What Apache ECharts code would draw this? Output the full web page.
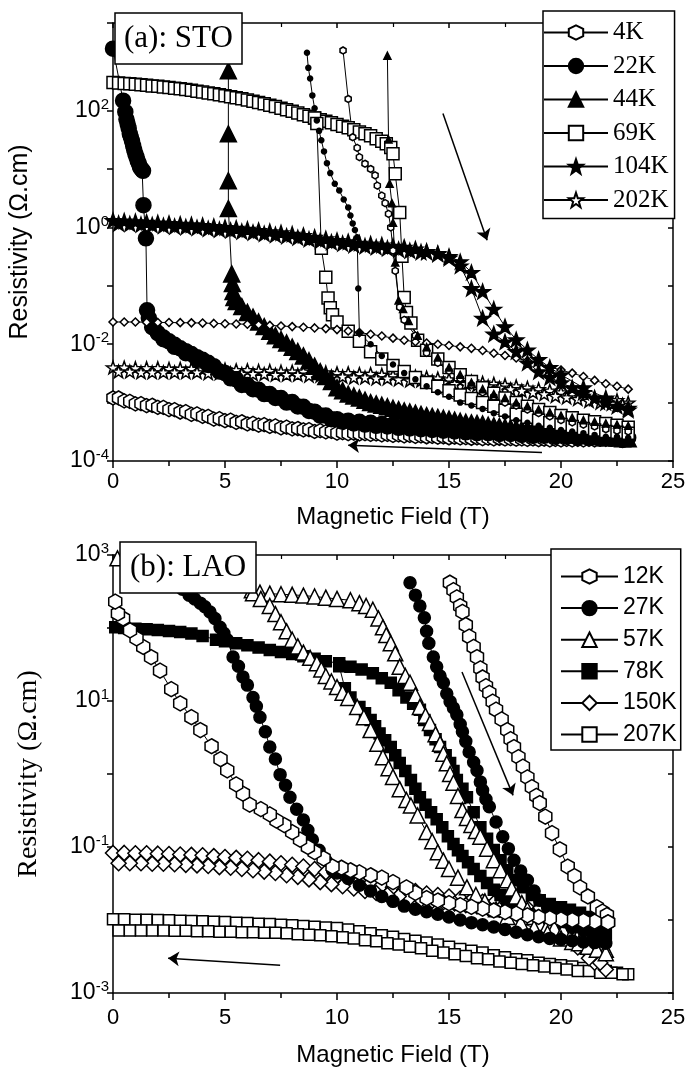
<!DOCTYPE html>
<html>
<head>
<meta charset="utf-8">
<script src="https://cdn.jsdelivr.net/npm/echarts@6.0.0/dist/echarts.min.js"></script>
<style>
html, body { margin: 0; background: #fff; }
#main { width: 692px; height: 1077px; }
</style>
</head>
<body>
<div id="main"></div>
<script>
// ---- (a) STO : [field (T), resistivity (ohm.cm)] ----
const sto4kBack = [[0,1.2e-3],[0.25,1.2e-3],[0.5,1.07e-3],[0.75,1.05e-3],[1,9.5e-4],[1.25,9.6e-4],[1.5,8.9e-4],[1.75,9e-4],[2,8.3e-4],[2.25,8.3e-4],[2.5,7.6e-4],[2.75,7.6e-4],[3,6.9e-4],[3.25,7e-4],[3.5,6.3e-4],[3.75,6.4e-4],[4,5.8e-4],[4.25,5.8e-4],[4.5,5.2e-4],[4.75,5.3e-4],[5,4.9e-4],[5.25,5e-4],[5.5,4.6e-4],[5.75,4.7e-4],[6,4.3e-4],[6.25,4.4e-4],[6.5,4.1e-4],[6.75,4.2e-4],[7,3.9e-4],[7.25,4e-4],[7.5,3.7e-4],[7.75,3.8e-4],[8,3.55e-4],[8.25,3.6e-4],[8.5,3.4e-4],[8.75,3.45e-4],[9,3.2e-4],[9.25,3.3e-4],[9.5,3.15e-4],[9.75,3.2e-4],[10,3.0e-4],[10.25,3.05e-4],[10.5,2.95e-4],[10.75,3e-4],[11,2.9e-4],[11.25,2.95e-4],[11.5,2.85e-4],[11.75,2.9e-4],[12,2.8e-4],[12.25,2.85e-4],[12.5,2.75e-4],[12.75,2.8e-4],[13,2.7e-4],[13.25,2.75e-4],[13.5,2.65e-4],[13.75,2.7e-4],[14,2.6e-4],[14.25,2.65e-4],[14.5,2.55e-4],[14.75,2.6e-4],[15,2.5e-4],[15.25,2.55e-4],[15.5,2.48e-4],[15.75,2.52e-4],[16,2.45e-4],[16.25,2.5e-4],[16.5,2.42e-4],[16.75,2.47e-4],[17,2.4e-4],[17.25,2.45e-4],[17.5,2.38e-4],[17.75,2.42e-4],[18,2.36e-4],[18.25,2.4e-4],[18.5,2.34e-4],[18.75,2.38e-4],[19,2.32e-4],[19.25,2.36e-4],[19.5,2.3e-4],[19.75,2.35e-4],[20,2.3e-4],[20.25,2.35e-4],[20.5,2.3e-4],[20.75,2.35e-4],[21,2.3e-4],[21.25,2.35e-4],[21.5,2.3e-4],[21.75,2.38e-4],[22,2.35e-4],[22.25,2.42e-4],[22.5,2.4e-4],[22.75,2.5e-4],[23,2.5e-4]];
const sto4kSweep = [[10.27,1070],[10.5,158],[10.7,35],[10.9,23],[11.0,16],[11.25,12.3],[11.5,10],[11.7,7.8],[11.8,5.2],[12.0,3.5],[12.15,2.6],[12.3,1.7],[12.4,1.0],[12.5,0.4],[12.6,0.18],[12.8,0.043],[13.0,0.026],[13.5,0.014],[14,0.0071],[14.5,0.0048],[15,0.0035],[15.5,0.0026],[16,0.002],[16.5,0.0015],[17,0.00126],[17.5,0.001],[18,0.00089],[18.5,0.00076],[19,0.00066],[19.5,0.00058],[20,0.0005],[20.5,0.00046],[21,0.00042],[21.5,0.00039],[22,0.00035],[22.5,0.00033],[23,0.00032]];
const sto22k = [[0,1150],[0.45,148],[0.55,95],[0.6,71],[0.65,60],[0.7,50],[0.75,40],[0.8,35],[0.85,30],[0.9,25],[0.95,21],[1.0,18],[1.05,16],[1.1,14],[1.15,12.5],[1.2,11],[1.25,10.2],[1.3,9.6],[1.34,9.3],[1.36,2.4],[1.47,0.65],[1.52,0.038],[1.6,0.028],[1.8,0.02],[2,0.0155],[2.25,0.013],[2.5,0.0112],[2.75,0.0098],[3,0.0085],[3.25,0.0076],[3.5,0.0068],[3.75,0.006],[4,0.0054],[4.25,0.0048],[4.5,0.0042],[5,0.0032],[5.5,0.0025],[6,0.002],[6.5,0.00166],[7,0.0014],[7.5,0.0012],[8,0.00102],[8.5,0.00085],[9,0.0007],[9.5,0.0006],[10,0.00052],[10.5,0.00049],[11,0.00047],[11.5,0.00045],[12,0.00043],[12.5,0.00042],[13,0.0004],[13.5,0.00039],[14,0.00038],[14.5,0.00036],[15,0.00035],[15.5,0.000345],[16,0.00034],[16.5,0.00033],[17,0.00032],[17.5,0.000315],[18,0.00031],[18.5,0.000305],[19,0.0003],[19.5,0.00029],[20,0.00028],[20.5,0.000275],[21,0.00027],[21.5,0.000265],[22,0.00026],[22.5,0.000255],[23,0.00025]];
const sto22kBack = [[22.75,0.00023],[22.25,0.00024],[21.75,0.00024],[21.25,0.00025],[20.75,0.00025],[20.25,0.00026],[19.75,0.00026],[19.25,0.00027],[18.75,0.00027],[18.25,0.00028],[17.75,0.00029],[17.25,0.00029],[16.75,0.0003],[16.25,0.0003],[15.75,0.00031],[15.25,0.00032],[14.75,0.00033],[14.25,0.00034],[13.75,0.00035],[13.25,0.00036],[12.75,0.00037],[12.25,0.00039],[11.75,0.0004],[11.25,0.00042],[10.75,0.00044],[10.25,0.00047],[9.75,0.00052],[9.25,0.0006],[8.75,0.00072],[8.25,0.00086],[7.75,0.001],[7.25,0.0012],[6.75,0.0014],[6.25,0.0017],[5.75,0.002],[5.25,0.0026],[4.75,0.0034],[4.25,0.0044],[3.75,0.0055],[3.25,0.007],[2.75,0.009],[2.25,0.0122],[1.75,0.0195]];
const sto22kSweep = [[8.66,980],[8.72,540],[8.8,355],[8.9,182],[9.0,110],[9.1,68],[9.2,45],[9.3,31],[9.42,20],[9.55,12.6],[9.7,8.5],[9.9,5.6],[10.1,4.3],[10.3,3.0],[10.5,2.2],[10.6,1.6],[10.7,1.17],[10.8,0.9],[10.9,0.68],[10.95,0.09],[11.0,0.0155],[11.5,0.01],[12,0.0063],[12.5,0.0045],[13,0.0032],[13.5,0.0025],[14,0.0019],[14.5,0.0015],[15,0.00126],[15.5,0.001],[16,0.00089],[16.5,0.00078],[17,0.00066],[17.5,0.00058],[18,0.0005],[18.5,0.00045],[19,0.0004],[19.5,0.00037],[20,0.00034],[20.5,0.00032],[21,0.0003],[21.5,0.00028],[22,0.00026],[22.5,0.00026],[23,0.00025]];
const sto44k = [[5.15,480],[5.15,40],[5.15,6.3],[5.15,2.1],[5.3,0.16],[5.33,0.11],[5.36,0.08],[5.4,0.063],[5.5,0.054],[5.75,0.044],[6,0.035],[6.25,0.029],[6.5,0.024],[6.75,0.02],[7,0.0166],[7.5,0.012],[8,0.0089],[8.5,0.0063],[9,0.0042],[9.5,0.0028],[10,0.0018],[10.5,0.0014],[11,0.0012],[11.5,0.001],[12,0.0009],[12.5,0.0008],[13,0.00072],[13.5,0.00066],[14,0.0006],[14.5,0.00056],[15,0.00052],[15.5,0.00048],[16,0.00045],[16.5,0.00043],[17,0.0004],[17.5,0.00038],[18,0.00036],[18.5,0.00034],[19,0.00033],[19.5,0.00031],[20,0.0003],[20.5,0.00029],[21,0.00028],[21.5,0.00027],[22,0.00026],[22.5,0.00025],[23,0.00024]];
const sto44kBack = [[22.75,0.00024],[22.25,0.00025],[21.75,0.00026],[21.25,0.00027],[20.75,0.00028],[20.25,0.00029],[19.75,0.0003],[19.25,0.00031],[18.75,0.00033],[18.25,0.00035],[17.75,0.00037],[17.25,0.00039],[16.75,0.00041],[16.25,0.00044],[15.75,0.00046],[15.25,0.0005],[14.75,0.00054],[14.25,0.00058],[13.75,0.00063],[13.25,0.00069],[12.75,0.00076],[12.25,0.00085],[11.75,0.00095],[11.25,0.0011],[10.75,0.0013],[10.25,0.0016],[9.75,0.0023],[9.25,0.0034],[8.75,0.0052],[8.25,0.0075],[7.75,0.0105],[7.25,0.014]];
const sto44kSweep = [[12.25,870],[12.3,32],[12.35,5.6],[12.45,2.6],[12.5,1.2],[12.6,0.25],[12.75,0.056],[12.95,0.04],[13.2,0.025],[13.6,0.014],[14,0.0089],[14.5,0.0059],[15,0.004],[15.5,0.003],[16,0.0022],[16.5,0.0017],[17,0.0014],[17.5,0.0012],[18,0.001],[18.5,0.00087],[19,0.00076],[19.5,0.00068],[20,0.0006],[20.5,0.00055],[21,0.0005],[21.5,0.00047],[22,0.00044],[22.5,0.00042],[23,0.0004]];
const sto69k = [[0,302],[0.25,297],[0.5,292],[0.75,287],[1,282],[1.25,276],[1.5,271],[1.75,265],[2,260],[2.25,254],[2.5,248],[2.75,242],[3,236],[3.25,229],[3.5,222],[3.75,215],[4,208],[4.25,201],[4.5,194],[4.75,187],[5,180],[5.25,173],[5.5,166],[5.75,159],[6,152],[6.25,145],[6.5,138],[6.75,131],[7,124],[7.25,117],[7.5,110],[7.75,103],[8,97],[8.25,91],[8.5,85],[8.75,80],[9,75],[9.25,70],[9.5,66],[9.75,62],[10,58],[10.25,54],[10.5,51],[10.75,47],[11,43],[11.25,40],[11.5,37],[11.75,33],[12,30],[12.2,27],[12.4,23.4],[12.5,18.2],[12.6,8.3],[12.8,1.8],[12.9,0.32],[13.0,0.063],[13.1,0.035],[13.3,0.023],[13.6,0.0117],[14,0.0079],[14.5,0.0056],[15,0.004],[15.5,0.003],[16,0.0023],[16.5,0.0018],[17,0.00145],[17.5,0.0012],[18,0.001],[18.5,0.00087],[19,0.00076],[19.5,0.00068],[20,0.0006],[20.5,0.00055],[21,0.0005],[21.5,0.00047],[22,0.00044],[22.5,0.00041],[23,0.00038]];
const sto69kBranch = [[9.0,75],[9.1,60],[9.3,0.44],[9.5,0.14],[9.6,0.062],[9.7,0.042],[9.8,0.032],[10,0.024],[10.5,0.0166],[11,0.0112],[11.5,0.0074],[12,0.0056],[12.5,0.0043],[13,0.0034],[13.5,0.0027],[14,0.0022],[14.5,0.0019],[15,0.0016],[15.5,0.00135],[16,0.00117],[16.5,0.001],[17,0.00087],[17.5,0.00074],[18,0.00063],[18.5,0.00056],[19,0.0005],[19.5,0.00045],[20,0.00042],[20.5,0.00039],[21,0.00036],[21.5,0.00034],[22,0.00032],[22.5,0.00031],[23,0.0003]];
const sto104k = [[0,1.32],[0.5,1.29],[1,1.26],[1.5,1.23],[2,1.2],[2.5,1.17],[3,1.14],[3.5,1.11],[4,1.08],[4.5,1.04],[5,1.0],[5.5,0.97],[6,0.93],[6.5,0.89],[7,0.85],[7.5,0.81],[8,0.77],[8.5,0.73],[9,0.68],[9.5,0.64],[10,0.6],[10.5,0.57],[11,0.54],[11.5,0.52],[12,0.5],[12.5,0.48],[13,0.46],[13.5,0.43],[14,0.39],[14.5,0.35],[15,0.3],[15.5,0.22],[16,0.09],[16.5,0.028],[17,0.015],[17.5,0.011],[18,0.0075],[18.5,0.0048],[19,0.0034],[19.5,0.0027],[20,0.0022],[20.5,0.0018],[21,0.0015],[21.5,0.0012],[22,0.001],[22.5,0.00087],[23,0.00075]];
const sto104kBack = [[23,0.0008],[22,0.0012],[21,0.0018],[20,0.003],[19.5,0.004],[19,0.0055],[18.5,0.008],[18,0.012],[17.5,0.02],[17,0.04],[16.5,0.08],[16,0.17],[15.5,0.26],[15,0.32],[14.5,0.36],[14,0.38],[13.75,0.38],[13.25,0.4],[12.75,0.42],[12.25,0.44],[11.75,0.46],[11.25,0.48],[10.75,0.5],[10.25,0.53],[9.75,0.56],[9.25,0.59],[8.75,0.63],[8.25,0.67],[7.75,0.71],[7.25,0.75],[6.75,0.78],[6.25,0.82],[5.75,0.85],[5.25,0.89],[4.75,0.92],[4.25,0.95],[3.75,0.99],[3.25,1.02],[2.75,1.04],[2.25,1.07],[1.75,1.1],[1.25,1.12],[0.75,1.15],[0.25,1.17]];
const sto202k = [[0,0.004],[0.5,0.004],[1,0.0039],[1.5,0.0039],[2,0.0039],[2.5,0.0038],[3,0.0038],[3.5,0.0038],[4,0.0037],[4.5,0.0037],[5,0.0037],[5.5,0.0036],[6,0.0036],[6.5,0.0035],[7,0.0035],[7.5,0.0034],[8,0.0034],[8.5,0.0034],[9,0.0033],[9.5,0.0033],[10,0.0032],[10.5,0.0032],[11,0.0031],[11.5,0.0031],[12,0.003],[12.5,0.0029],[13,0.0029],[13.5,0.0028],[14,0.0027],[14.5,0.0026],[15,0.0025],[15.5,0.0024],[16,0.0023],[16.5,0.0022],[17,0.0021],[17.5,0.002],[18,0.0019],[18.5,0.0018],[19,0.0017],[19.5,0.0016],[20,0.0015],[20.5,0.0014],[21,0.0013],[21.5,0.0012],[22,0.00115],[22.5,0.0011],[23,0.001]];
const sto202kBack = [[22.75,0.00092],[22.25,0.00096],[21.75,0.001],[21.25,0.00107],[20.75,0.00115],[20.25,0.00123],[19.75,0.0013],[19.25,0.0014],[18.75,0.0015],[18.25,0.0016],[17.75,0.0017],[17.25,0.0018],[16.75,0.0019],[16.25,0.002],[15.75,0.0021],[15.25,0.0021],[14.75,0.0022],[14.25,0.0023],[13.75,0.0024],[13.25,0.0024],[12.75,0.0025],[12.25,0.0026],[11.75,0.0026],[11.25,0.0027],[10.75,0.0027],[10.25,0.0028],[9.75,0.0028],[9.25,0.0029],[8.75,0.0029],[8.25,0.003],[7.75,0.003],[7.25,0.003],[6.75,0.0031],[6.25,0.0031],[5.75,0.0031],[5.25,0.0032],[4.75,0.0032],[4.25,0.0032],[3.75,0.0033],[3.25,0.0033],[2.75,0.0033],[2.25,0.0033],[1.75,0.0033],[1.25,0.0033],[0.75,0.0034],[0.25,0.0034]];
const stoSmallRow = [[0,0.024],[0.5,0.024],[1,0.024],[1.5,0.0238],[2,0.0236],[2.5,0.0235],[3,0.0234],[3.5,0.0232],[4,0.023],[4.5,0.0227],[5,0.0224],[5.5,0.0222],[6,0.022],[6.5,0.0215],[7,0.021],[7.5,0.0205],[8,0.02],[8.5,0.0195],[9,0.019],[9.5,0.0185],[10,0.0178],[10.5,0.0168],[11,0.0158],[11.5,0.0148],[12,0.0138],[12.5,0.0127],[13,0.0117],[13.5,0.011],[14,0.0105],[14.5,0.01],[15,0.0095],[15.5,0.009],[16,0.0085],[16.5,0.0078],[17,0.007],[17.5,0.0064],[18,0.0058],[18.5,0.0052],[19,0.0047],[19.5,0.0041],[20,0.0036],[20.5,0.0032],[21,0.0028],[21.5,0.0024],[22,0.0021],[22.5,0.0019],[23,0.0017]];
const arrowsA = [[[14.73, 89], [16.7, 0.6]], [[19.15, 1.4e-4], [10.5, 1.86e-4]]];

// ---- (b) LAO ----
const lao12kUp = [[15.04,417],[15.2,330],[15.35,263],[15.5,200],[15.6,166],[15.75,110],[15.9,76],[16.1,55],[16.25,40],[16.4,28],[16.5,21],[16.65,16],[16.8,12.9],[16.95,9.8],[17.1,7.6],[17.35,5.6],[17.6,4.0],[17.75,3.0],[17.9,2.34],[18.1,1.7],[18.3,1.26],[18.5,0.9],[18.7,0.66],[18.9,0.5],[19.05,0.4],[19.3,0.26],[19.6,0.155],[19.95,0.093],[20.3,0.054],[20.6,0.04],[20.85,0.028],[21.2,0.021],[21.6,0.015],[21.85,0.013],[22.05,0.0117],[22.1,0.0093]];
const lao12kBack = [[22.1,0.0093],[21.5,0.0095],[21,0.0097],[20.5,0.01],[20,0.0102],[19.5,0.0106],[19,0.011],[18.5,0.0116],[18,0.0122],[17.5,0.0128],[17,0.0135],[16.5,0.0143],[16,0.0151],[15.5,0.016],[15,0.017],[14.5,0.0185],[14,0.02],[13.5,0.0235],[13.1,0.028],[12.5,0.033],[12,0.038],[11.5,0.041],[11,0.045],[10.6,0.048],[10.2,0.052],[9.8,0.054],[9.4,0.07],[9,0.085],[8.7,0.1],[8.35,0.126],[8,0.16],[7.65,0.2],[7.3,0.23],[7,0.28],[6.6,0.33],[6.1,0.38],[5.8,0.54],[5.5,0.72],[5.1,1.12],[4.8,1.6],[4.4,2.4],[3.9,4.0],[3.5,6.0],[3.0,9.3],[2.6,14.5],[2.1,26],[1.7,40],[1.35,55],[1.05,72],[0.76,93],[0.45,135],[0.22,158],[0.1,230]];
const lao27kUp = [[13.26,417],[13.5,282],[13.7,200],[13.9,138],[14.0,90],[14.1,62],[14.3,40],[14.45,29.5],[14.6,22],[14.75,17.8],[14.9,12.6],[15.05,9.8],[15.2,8],[15.35,6.5],[15.5,4.8],[15.6,3.8],[15.75,2.8],[15.9,2.0],[16.1,1.45],[16.25,1.12],[16.4,0.78],[16.5,0.6],[16.65,0.45],[16.8,0.355],[17.1,0.22],[17.4,0.138],[17.65,0.095],[17.9,0.066],[18.2,0.047],[18.5,0.035],[18.8,0.025],[19.05,0.0186],[19.4,0.015],[19.8,0.0126],[20.15,0.0095],[20.5,0.0079],[21,0.0072],[21.4,0.0066],[21.9,0.0062]];
const lao27kBack = [[22,0.0048],[21.5,0.0049],[21,0.005],[20.5,0.0052],[20,0.0054],[19.5,0.0056],[19,0.0059],[18.5,0.0063],[18,0.0068],[17.5,0.0074],[17,0.008],[16.5,0.0086],[16,0.0092],[15.5,0.01],[15,0.011],[14.5,0.012],[14,0.013],[13.5,0.014],[13,0.0155],[12.5,0.018],[12,0.021],[11.5,0.025],[11,0.03],[10.5,0.037],[10,0.044],[9.8,0.048],[9.5,0.066],[9.2,0.09],[8.9,0.126],[8.7,0.17],[8.5,0.234],[8.2,0.33],[7.9,0.48],[7.7,0.7],[7.46,0.98],[7.25,1.6],[7.0,2.34],[6.8,3.8],[6.56,6.0],[6.4,8.5],[6.25,11.2],[6.0,16.5],[5.8,21.4],[5.6,30],[5.36,40],[5.1,69],[4.95,85],[4.78,102],[4.55,135],[4.33,166],[4.1,195],[3.9,219],[3.65,250],[3.4,282],[3.1,340],[2.8,400],[2.2,600],[1.6,800]];
const lao57kUp = [[0.2,900],[0.7,880],[1.2,850],[1.7,820],[2.2,790],[2.7,760],[3.2,720],[3.7,680],[4.2,620],[4.7,540],[5.2,460],[5.7,390],[6.2,330],[6.56,305],[7,295],[7.5,290],[8,285],[8.5,278],[9,270],[9.5,260],[10,250],[10.6,240],[11,219],[11.3,200],[11.6,178],[11.85,135],[12.05,102],[12.2,80],[12.4,62],[12.6,45],[12.8,29.5],[13.05,22],[13.26,17.8],[13.5,12],[13.7,8.3],[13.95,6.3],[14.15,5.0],[14.4,3.5],[14.6,2.6],[14.75,1.9],[14.9,1.4],[15.05,1.0],[15.2,0.76],[15.4,0.5],[15.6,0.32],[15.8,0.25],[16.0,0.2],[16.2,0.165],[16.4,0.138],[16.7,0.095],[17.0,0.066],[17.3,0.048],[17.6,0.035],[17.8,0.027],[18.0,0.021],[18.25,0.017],[18.5,0.0138],[18.8,0.011],[19.05,0.0091],[19.4,0.0084],[19.7,0.0078],[20.1,0.0072],[20.5,0.0066],[20.8,0.0063],[21.1,0.006],[21.4,0.0057],[21.7,0.0054],[22.0,0.0039]];
const lao57kBranch = [[6.25,300],[6.6,250],[7.0,200],[7.25,155],[7.5,120],[7.75,90],[8.0,69],[8.25,56],[8.5,46],[8.8,39],[9.1,33],[9.3,27],[9.5,22],[9.75,18.5],[10.0,15.5],[10.25,13],[10.5,11],[10.9,8.3],[11.2,6.0],[11.5,4.0],[11.8,2.6],[12.05,1.7],[12.3,1.2],[12.5,0.91],[12.8,0.62],[13.1,0.44],[13.3,0.37],[13.6,0.27],[14.0,0.16],[14.25,0.12],[14.5,0.085],[14.75,0.065],[15.0,0.05],[15.4,0.038],[15.8,0.028],[16.2,0.022],[16.6,0.018],[17.1,0.014],[17.6,0.011],[18.2,0.0092],[18.8,0.0078],[19.4,0.0066],[20.0,0.0056],[20.5,0.005],[20.8,0.0048],[21.2,0.0043],[21.6,0.0039],[22.0,0.0035]];
const lao78kUp = [[0.1,102],[0.5,100],[1,98],[1.5,96],[2,94],[2.5,91],[3,88],[3.5,84],[4,78],[4.6,69],[5,66],[5.5,62],[6,58],[6.5,54],[7,50],[7.5,47],[8,44],[8.5,41],[9,38],[9.5,35],[10.1,33],[10.6,29.5],[11.1,27],[11.6,24],[12.0,20.5],[12.4,17.8],[12.75,14],[13.1,11.2],[13.4,9.2],[13.7,7.6],[13.9,5.5],[14.15,4.0],[14.4,3.0],[14.6,2.34],[14.85,1.8],[15.05,1.41],[15.2,1.1],[15.35,0.83],[15.6,0.63],[15.8,0.48],[16.1,0.3],[16.4,0.186],[16.7,0.13],[17.0,0.091],[17.3,0.066],[17.6,0.048],[18.0,0.035],[18.3,0.028],[18.7,0.022],[19.05,0.0186],[19.5,0.0165],[20,0.015],[20.4,0.0138],[20.85,0.0126],[21.3,0.011],[21.7,0.0085],[22,0.0066]];
const lao78kBranch = [[10.1,30],[10.35,15],[10.6,11.2],[11.0,8.3],[11.25,6.8],[11.5,5.5],[11.7,4.5],[11.9,3.6],[12.15,2.9],[12.4,2.34],[12.6,1.8],[12.8,1.41],[13.05,1.1],[13.3,0.83],[13.5,0.63],[13.7,0.48],[13.95,0.38],[14.2,0.3],[14.45,0.24],[14.7,0.186],[14.95,0.14],[15.2,0.11],[15.4,0.09],[15.6,0.075],[15.85,0.062],[16.1,0.05],[16.4,0.04],[16.7,0.032],[17.0,0.026],[17.3,0.022],[17.6,0.0185],[17.9,0.0155],[18.2,0.0135],[18.5,0.012],[19.0,0.0105],[19.5,0.0093],[20.0,0.0085],[20.5,0.0078],[21.0,0.0072],[21.5,0.0066],[22,0.006]];
const lao150kUp = [[0,0.083],[0.5,0.083],[1,0.082],[1.5,0.082],[2,0.081],[2.5,0.08],[3,0.079],[3.5,0.078],[4,0.077],[4.5,0.075],[5,0.073],[5.5,0.071],[6,0.069],[6.5,0.066],[7,0.063],[7.5,0.06],[8,0.057],[8.5,0.054],[9,0.05],[9.5,0.045],[10,0.04],[10.5,0.037],[11,0.034],[11.5,0.032],[12,0.03],[12.5,0.028],[13,0.026],[13.5,0.025],[14,0.023],[14.5,0.022],[15,0.021],[15.5,0.0197],[16,0.0187],[16.5,0.0178],[17,0.017],[17.5,0.0162],[18,0.0154],[18.5,0.0146],[19,0.0138],[19.5,0.012],[20,0.009],[20.5,0.0058],[21,0.0042],[21.5,0.0026],[22,0.0021]];
const lao150kBack = [[21.75,0.0026],[21.25,0.003],[20.75,0.0042],[20.25,0.0055],[19.75,0.0075],[19.25,0.0098],[18.75,0.0115],[18.25,0.0122],[17.75,0.013],[17.25,0.0138],[16.75,0.0145],[16.25,0.0153],[15.75,0.016],[15.25,0.0168],[14.75,0.0175],[14.25,0.0183],[13.75,0.019],[13.25,0.02],[12.75,0.021],[12.25,0.022],[11.75,0.0235],[11.25,0.025],[10.75,0.027],[10.25,0.029],[9.75,0.031],[9.25,0.033],[8.75,0.036],[8.25,0.039],[7.75,0.041],[7.25,0.044],[6.75,0.046],[6.25,0.048],[5.75,0.05],[5.25,0.052],[4.75,0.053],[4.25,0.055],[3.75,0.056],[3.25,0.057],[2.75,0.058],[2.25,0.059],[1.75,0.059],[1.25,0.06],[0.75,0.06],[0.25,0.06]];
const lao207kUp = [[0,0.0102],[0.5,0.0102],[1,0.0101],[1.5,0.0101],[2,0.01],[2.5,0.0099],[3,0.0098],[3.5,0.0097],[4,0.0096],[4.5,0.0095],[5,0.0094],[5.5,0.0092],[6,0.0091],[6.5,0.0089],[7,0.0088],[7.5,0.0086],[8,0.0085],[8.5,0.0083],[9,0.0081],[9.5,0.0079],[10,0.0078],[10.5,0.0074],[11,0.007],[11.5,0.0066],[12,0.0062],[12.5,0.0059],[13,0.0055],[13.5,0.0052],[14,0.0049],[14.5,0.0046],[15,0.0043],[15.5,0.004],[16,0.0038],[16.5,0.0036],[17,0.0033],[17.5,0.0031],[18,0.0029],[18.5,0.0028],[19,0.0026],[19.5,0.0025],[20,0.0024],[20.5,0.0023],[21,0.0022],[21.5,0.0021],[22,0.002],[22.5,0.0019],[23,0.0018]];
const lao207kBack = [[22.75,0.0018],[22.25,0.0019],[21.75,0.0019],[21.25,0.002],[20.75,0.002],[20.25,0.0021],[19.75,0.0022],[19.25,0.0023],[18.75,0.0024],[18.25,0.0025],[17.75,0.0026],[17.25,0.0027],[16.75,0.0029],[16.25,0.003],[15.75,0.0032],[15.25,0.0034],[14.75,0.0036],[14.25,0.0038],[13.75,0.0041],[13.25,0.0043],[12.75,0.0046],[12.25,0.0048],[11.75,0.0051],[11.25,0.0053],[10.75,0.0056],[10.25,0.0058],[9.75,0.006],[9.25,0.0062],[8.75,0.0063],[8.25,0.0064],[7.75,0.0066],[7.25,0.0067],[6.75,0.0067],[6.25,0.0068],[5.75,0.0068],[5.25,0.0069],[4.75,0.0069],[4.25,0.007],[3.75,0.007],[3.25,0.0071],[2.75,0.0071],[2.25,0.0072],[1.75,0.0072],[1.25,0.0072],[0.75,0.0072],[0.25,0.0072]];
const arrowsB = [[[15.58, 25], [17.86, 0.51]], [[7.46, 0.0024], [2.46, 0.003]]];

const fieldTicks = [0, 5, 10, 15, 20, 25];
const legendA = ['4K', '22K', '44K', '69K', '104K', '202K'];
const legendB = ['12K', '27K', '57K', '78K', '150K', '207K'];

const HEX = 'path://M0,-10L8.66,-5L8.66,5L0,10L-8.66,5L-8.66,-5Z';
const STAR = 'path://M0,-10L2.35,-3.24L9.51,-3.09L3.8,1.24L5.88,8.09L0,4L-5.88,8.09L-3.8,1.24L-9.51,-3.09L-2.35,-3.24Z';
const SANS = 'Liberation Sans';
const SERIF = 'Liberation Serif';

function curve(name, data, panel, symbol, size, filled) {
  const idx = panel === 'a' ? 0 : 2;
  return {
    name: name,
    type: 'line',
    xAxisIndex: idx,
    yAxisIndex: idx,
    data: data,
    symbol: symbol,
    symbolSize: size,
    symbolKeepAspect: true,
    showAllSymbol: true,
    lineStyle: { color: '#000', width: 1 },
    itemStyle: { color: filled ? '#000' : '#fff', borderColor: '#000', borderWidth: 1.5 },
    emphasis: { disabled: true },
    animation: false
  };
}

function arrowLine(list) {
  return {
    silent: true,
    animation: false,
    symbol: ['none', 'arrow'],
    symbolSize: 11,
    label: { show: false },
    lineStyle: { color: '#000', width: 1.5, type: 'solid' },
    data: list.map(a => [{ coord: a[0] }, { coord: a[1] }])
  };
}

function powLabel(odd) {
  return function (v) {
    const l = Math.log10(v);
    const e = Math.round(l);
    if (Math.abs(l - e) > 0.01) return '';
    if ((Math.abs(e) % 2 === 1) !== odd) return '';
    return '{b|10}{s|' + e + '}';
  };
}

const richLabel = {
  b: { fontFamily: SANS, fontSize: 23, color: '#000', lineHeight: 27 },
  s: { fontFamily: SANS, fontSize: 15, color: '#000', verticalAlign: 'top', lineHeight: 15 }
};

function xAxes(grid, nameGap, margin) {
  return [{
    gridIndex: grid, type: 'value', min: 0, max: 25, interval: 5, position: 'bottom',
    axisLine: { onZero: false, lineStyle: { color: '#000', width: 1.5 } },
    axisTick: { length: 7, lineStyle: { color: '#000', width: 1.5 } },
    minorTick: { show: true, splitNumber: 2, length: 5, lineStyle: { color: '#000', width: 1.5 } },
    splitLine: { show: false },
    axisLabel: { fontFamily: SANS, fontSize: 22, color: '#000', margin: margin,
      formatter: v => fieldTicks.indexOf(v) >= 0 ? String(v) : '' },
    name: 'Magnetic Field (T)', nameLocation: 'middle', nameGap: nameGap,
    nameTextStyle: { fontFamily: SANS, fontSize: 24, color: '#000' }
  }, {
    gridIndex: grid, type: 'value', min: 0, max: 25, interval: 5, position: 'top',
    axisLine: { onZero: false, lineStyle: { color: '#000', width: 1.5 } },
    axisTick: { inside: true, length: 5, lineStyle: { color: '#000', width: 1.5 } },
    minorTick: { show: true, splitNumber: 2, length: 4, lineStyle: { color: '#000', width: 1.2 } },
    splitLine: { show: false }, axisLabel: { show: false }
  }];
}

function yAxes(grid, min, max, odd, nameFont, nameSize, nameGap) {
  return [{
    gridIndex: grid, type: 'log', logBase: 10, min: min, max: max, splitNumber: 8, position: 'left',
    axisLine: { onZero: false, lineStyle: { color: '#000', width: 1.5 } },
    axisTick: { length: 6, lineStyle: { color: '#000', width: 1.5 } },
    splitLine: { show: false },
    axisLabel: { margin: 4, formatter: powLabel(odd), rich: richLabel },
    name: 'Resistivity (Ω.cm)', nameLocation: 'middle', nameGap: nameGap,
    nameTextStyle: { fontFamily: nameFont, fontSize: nameSize, color: '#000' }
  }, {
    gridIndex: grid, type: 'log', logBase: 10, min: min, max: max, splitNumber: 8, position: 'right',
    axisLine: { onZero: false, lineStyle: { color: '#000', width: 1.5 } },
    axisTick: { inside: true, length: 5, lineStyle: { color: '#000', width: 1.5 } },
    splitLine: { show: false }, axisLabel: { show: false }
  }];
}

const seriesA = [
  curve('4K', sto4kBack, 'a', HEX, 14, false),
  curve('202K', sto202k, 'a', STAR, 13, false),
  curve('202K', sto202kBack, 'a', STAR, 13, false),
  curve('22K', sto22k, 'a', 'circle', 15, true),
  curve('22K', sto22kBack, 'a', 'circle', 15, true),
  curve('44K', sto44k, 'a', 'triangle', 16, true),
  curve('44K', sto44kBack, 'a', 'triangle', 16, true),
  curve('69K', sto69k, 'a', 'rect', 12, false),
  curve('69K', sto69kBranch, 'a', 'rect', 12, false),
  curve('202K', stoSmallRow, 'a', 'diamond', 8, false),
  curve('104K', sto104k, 'a', STAR, 15, true),
  curve('104K', sto104kBack, 'a', STAR, 15, true),
  curve('22K', sto22kSweep, 'a', 'circle', 5, true),
  curve('4K', sto4kSweep, 'a', HEX, 7, false),
  curve('44K', sto44kSweep, 'a', 'triangle', 7, true)
];
seriesA[0].markLine = arrowLine(arrowsA);

const seriesB = [
  curve('207K', lao207kUp, 'b', 'rect', 11, false),
  curve('207K', lao207kBack, 'b', 'rect', 11, false),
  curve('150K', lao150kUp, 'b', 'diamond', 15, false),
  curve('150K', lao150kBack, 'b', 'diamond', 15, false),
  curve('78K', lao78kUp, 'b', 'rect', 11, true),
  curve('78K', lao78kBranch, 'b', 'rect', 11, true),
  curve('57K', lao57kUp, 'b', 'triangle', 15, false),
  curve('57K', lao57kBranch, 'b', 'triangle', 15, false),
  curve('27K', lao27kUp, 'b', 'circle', 12, true),
  curve('27K', lao27kBack, 'b', 'circle', 12, true),
  curve('12K', lao12kUp, 'b', HEX, 15, false),
  curve('12K', lao12kBack, 'b', HEX, 15, false)
];
seriesB[0].markLine = arrowLine(arrowsB);

const chart = echarts.init(document.getElementById('main'), null, { renderer: 'canvas' });
chart.setOption({
  backgroundColor: '#fff',
  animation: false,
  title: [{
    text: '(a): STO', left: 115, top: 13, padding: [10, 9, 10, 9],
    backgroundColor: '#fff', borderColor: '#000', borderWidth: 1.5,
    textStyle: { fontFamily: SERIF, fontSize: 31, fontWeight: 'normal', color: '#000' }
  }, {
    text: '(b): LAO', left: 120, top: 542, padding: [10, 10, 10, 10],
    backgroundColor: '#fff', borderColor: '#000', borderWidth: 1.5,
    textStyle: { fontFamily: SERIF, fontSize: 31, fontWeight: 'normal', color: '#000' }
  }],
  legend: [{
    data: legendA, orient: 'vertical', left: 543, top: 11,
    itemWidth: 64, itemHeight: 18, itemGap: 8.5, padding: [9, 6, 6, 0],
    backgroundColor: '#fff', borderColor: '#000', borderWidth: 1.5,
    selectedMode: false, z: 10,
    textStyle: { fontFamily: SERIF, fontSize: 25, color: '#000' }
  }, {
    data: legendB, orient: 'vertical', left: 551, top: 549,
    itemWidth: 57, itemHeight: 18, itemGap: 8.6, padding: [16, 4, 4, 9],
    backgroundColor: '#fff', borderColor: '#000', borderWidth: 1.5,
    selectedMode: false, z: 10,
    textStyle: { fontFamily: SANS, fontSize: 23, color: '#000' }
  }],
  grid: [
    { left: 113, top: 23, width: 560, height: 438 },
    { left: 113, top: 555, width: 560, height: 438 }
  ],
  xAxis: xAxes(0, 44, 10).concat(xAxes(1, 50, 14)),
  yAxis: yAxes(0, 1e-4, 3162.28, false, SANS, 25, 80).concat(yAxes(1, 1e-3, 1e3, true, SERIF, 28, 70)),
  series: seriesA.concat(seriesB)
});
</script>
</body>
</html>
